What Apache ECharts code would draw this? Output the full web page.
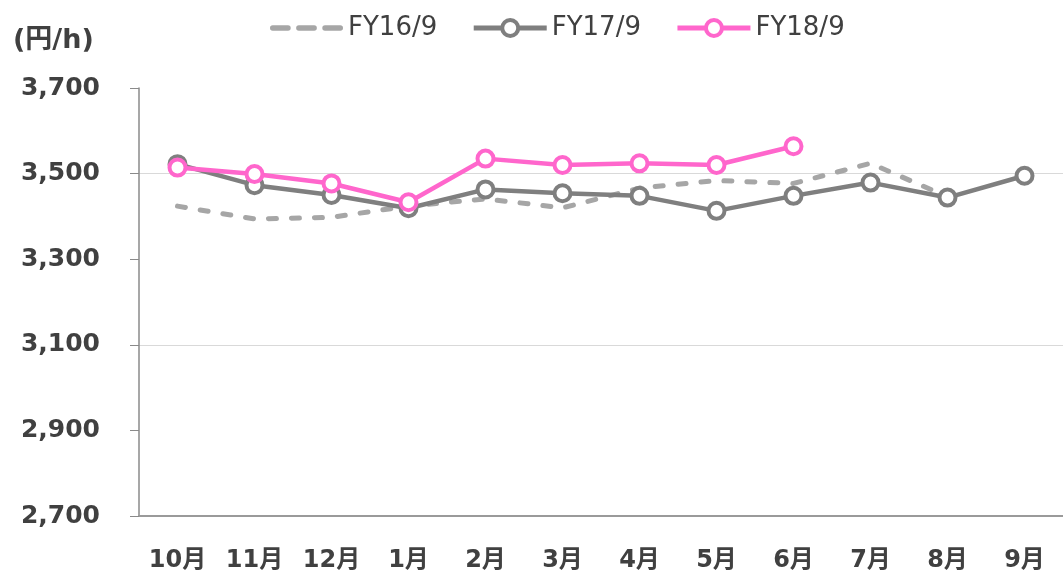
<!DOCTYPE html>
<html><head><meta charset="utf-8">
<script src="https://cdn.jsdelivr.net/npm/echarts@6/dist/echarts.min.js"></script>
<style>html,body{margin:0;padding:0;background:#fff}#c{width:1063px;height:573px}</style>
</head><body><div id="c"></div>
<script>
var months = ['10月','11月','12月','1月','2月','3月','4月','5月','6月','7月','8月','9月'];
var fy16 = [3424, 3394, 3398, 3424, 3441, 3420, 3466, 3484, 3477, 3524, 3446, null];
var fy17 = [3522, 3473, 3450, 3419, 3463, 3454, 3448, 3413, 3448, 3479, 3444, 3495];
var fy18 = [3514, 3499, 3477, 3433, 3535, 3520, 3524, 3520, 3564];
var yTicks = [2700, 2900, 3100, 3300, 3500, 3700];
var seriesNames = ['FY16/9', 'FY17/9', 'FY18/9'];

var font = 'DejaVu Sans, Noto Sans CJK JP, sans-serif';
var dashIcon = 'path://M2.5,0 h14 a2.5,2.5 0 0 1 0,5 h-14 a2.5,2.5 0 0 1 0,-5 z' +
  ' M26.5,0 h14 a2.5,2.5 0 0 1 0,5 h-14 a2.5,2.5 0 0 1 0,-5 z' +
  ' M50.5,0 h14 a2.5,2.5 0 0 1 0,5 h-14 a2.5,2.5 0 0 1 0,-5 z';
var chart = echarts.init(document.getElementById('c'), null, {renderer: 'canvas'});
chart.setOption({
  animation: false,
  title: {text: '(円/h)', left: 8, top: 22,
    textStyle: {fontFamily: font, fontSize: 27, fontWeight: 'bold', color: '#404040'}},
  legend: {
    left: 265, top: 10, itemWidth: 73, itemHeight: 20, itemGap: 34,
    textStyle: {fontFamily: font, fontSize: 26, color: '#404040'},
    lineStyle: {width: 5},
    itemStyle: {borderWidth: 4},
    data: [
      {name: seriesNames[0], icon: dashIcon, itemStyle: {color: '#a6a6a6', borderWidth: 0}},
      {name: seriesNames[1]},
      {name: seriesNames[2]}
    ]
  },
  grid: {left: 139, top: 88, width: 926, height: 428},
  xAxis: {
    type: 'category', data: months, boundaryGap: true,
    axisLine: {lineStyle: {color: '#9a9a9a', width: 2}},
    axisTick: {inside: true, length: 9, lineStyle: {color: '#8a8a8a', width: 1}},
    axisLabel: {margin: 33, fontFamily: font, fontSize: 24, fontWeight: 'bold', color: '#404040'}
  },
  yAxis: {
    type: 'value', min: 2700, max: 3700, interval: 100,
    axisLine: {show: true, lineStyle: {color: '#8a8a8a', width: 1.5}},
    axisTick: {show: true, length: 9, customValues: yTicks, lineStyle: {color: '#8a8a8a'}},
    axisLabel: {margin: 39, customValues: yTicks, fontFamily: font, fontSize: 25, fontWeight: 'bold', color: '#404040',
      formatter: function (v) { return ((v - 2700) % 200 === 0) ? v.toLocaleString('en-US') : ''; }},
    splitLine: {show: true, showMaxLine: false, lineStyle: {color: ['#d9d9d9', 'rgba(0,0,0,0)'], width: 1}}
  },
  series: [
    {name: seriesNames[0], type: 'line', data: fy16, symbol: 'none', showSymbol: false,
      itemStyle: {color: '#a6a6a6'},
      lineStyle: {color: '#a6a6a6', width: 5, type: [8, 15], cap: 'round'}, z: 2},
    {name: seriesNames[1], type: 'line', data: fy17, symbol: 'circle', symbolSize: 16,
      itemStyle: {color: '#ffffff', borderColor: '#7f7f7f', borderWidth: 4},
      lineStyle: {color: '#7f7f7f', width: 4.5}, z: 3},
    {name: seriesNames[2], type: 'line', data: fy18, symbol: 'circle', symbolSize: 16,
      itemStyle: {color: '#ffffff', borderColor: '#ff66cc', borderWidth: 4},
      lineStyle: {color: '#ff66cc', width: 4.5}, z: 4}
  ]
});
</script></body></html>
